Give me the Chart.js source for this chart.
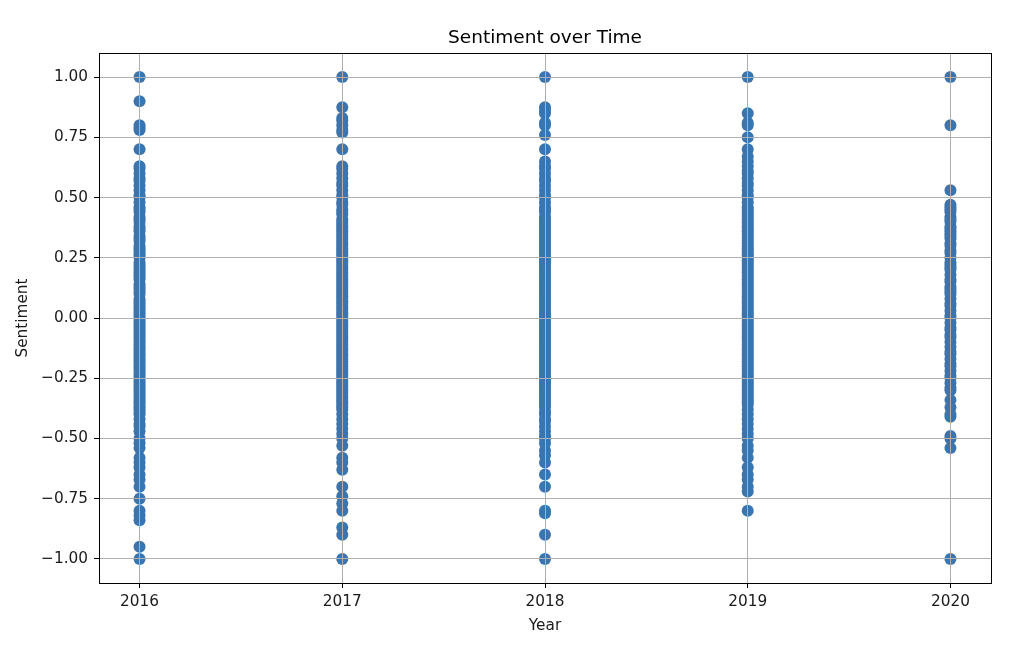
<!DOCTYPE html>
<html>
<head>
<meta charset="utf-8">
<script src="https://cdn.jsdelivr.net/npm/chart.js@4/dist/chart.umd.min.js"></script>
<style>
  html, body { margin: 0; padding: 0; background: #fff; }
  #sentiment-chart { display: block; }
</style>
</head>
<body>
<canvas id="sentiment-chart" width="1024" height="649"></canvas>
<script>
// 資料：每年的情緒分數
const years = [2016, 2017, 2018, 2019, 2020];
const yTicks = [-1.0, -0.75, -0.5, -0.25, 0.0, 0.25, 0.5, 0.75, 1.0];

const sentiment2016 = [
    1.0, 0.9, 0.8, 0.79, 0.78, 0.7, 0.63, 0.62, 0.6, 0.58, 0.57, 0.55, 0.53, 0.51,
    0.5, 0.48, 0.46, 0.44, 0.42, 0.4, 0.38, 0.36, 0.34, 0.32, 0.3, 0.28, 0.26, 0.25,
    0.23, 0.21, 0.2, 0.18, 0.16, 0.14, 0.12, 0.1, 0.08, 0.06, 0.05, 0.03, 0.01, 0.0,
    -0.02, -0.04, -0.06, -0.08, -0.1, -0.12, -0.14, -0.15, -0.17, -0.19, -0.2, -0.22,
    -0.24, -0.25, -0.27, -0.29, -0.3, -0.32, -0.34, -0.35, -0.37, -0.39, -0.4, -0.42,
    -0.44, -0.45, -0.47, -0.5, -0.52, -0.54, -0.58, -0.6, -0.62, -0.65, -0.67, -0.7,
    -0.75, -0.8, -0.82, -0.84, -0.95, -1.0,
    0.45, 0.41, 0.37, 0.33, 0.29, 0.27, 0.22, 0.19, 0.17, 0.13, 0.11, 0.07, 0.04,
    0.02, -0.01, -0.03, -0.05, -0.07, -0.09, -0.11, -0.13, -0.16, -0.18, -0.21,
    -0.23, -0.26, -0.28, -0.31, -0.33, -0.36, -0.38
];
const sentiment2017 = [
    1.0, 0.875, 0.83, 0.82, 0.8, 0.78, 0.77, 0.7, 0.63, 0.62, 0.6, 0.58, 0.56, 0.55,
    0.53, 0.51, 0.5, 0.48, 0.47, 0.45, 0.43, 0.41, 0.4, 0.38, 0.36, 0.35, 0.33, 0.31,
    0.3, 0.28, 0.27, 0.25, 0.23, 0.21, 0.2, 0.18, 0.16, 0.14, 0.13, 0.11, 0.1, 0.08,
    0.06, 0.04, 0.02, 0.0, -0.02, -0.03, -0.05, -0.07, -0.09, -0.1, -0.12, -0.13,
    -0.15, -0.17, -0.19, -0.2, -0.22, -0.23, -0.25, -0.27, -0.29, -0.3, -0.32, -0.34,
    -0.36, -0.38, -0.4, -0.42, -0.44, -0.46, -0.48, -0.5, -0.53, -0.58, -0.6, -0.63,
    -0.7, -0.74, -0.77, -0.8, -0.87, -0.9, -1.0,
    0.44, 0.39, 0.37, 0.34, 0.32, 0.29, 0.26, 0.24, 0.22, 0.19, 0.17, 0.15, 0.12,
    0.09, 0.07, 0.05, 0.03, 0.01, -0.01, -0.04, -0.06, -0.08, -0.11, -0.14, -0.16,
    -0.18, -0.21, -0.24, -0.26, -0.28, -0.31, -0.33, -0.35, -0.37
];
const sentiment2018 = [
    1.0, 0.875, 0.86, 0.85, 0.81, 0.8, 0.76, 0.7, 0.65, 0.63, 0.62, 0.6, 0.58, 0.57,
    0.55, 0.53, 0.51, 0.5, 0.48, 0.46, 0.44, 0.42, 0.4, 0.38, 0.36, 0.35, 0.33, 0.31,
    0.3, 0.28, 0.26, 0.25, 0.23, 0.21, 0.2, 0.18, 0.16, 0.14, 0.12, 0.1, 0.08, 0.07,
    0.05, 0.03, 0.01, 0.0, -0.02, -0.04, -0.05, -0.07, -0.09, -0.1, -0.12, -0.13,
    -0.15, -0.17, -0.19, -0.2, -0.22, -0.24, -0.25, -0.27, -0.29, -0.3, -0.32, -0.33,
    -0.35, -0.37, -0.39, -0.4, -0.42, -0.43, -0.45, -0.47, -0.49, -0.5, -0.52, -0.55,
    -0.57, -0.6, -0.65, -0.7, -0.8, -0.81, -0.9, -1.0,
    0.45, 0.41, 0.39, 0.37, 0.34, 0.32, 0.29, 0.27, 0.24, 0.22, 0.19, 0.17, 0.15,
    0.13, 0.11, 0.09, 0.06, 0.04, 0.02, -0.01, -0.03, -0.06, -0.08, -0.11, -0.14,
    -0.16, -0.18, -0.21, -0.23, -0.26, -0.28, -0.31, -0.34, -0.36
];
const sentiment2019 = [
    1.0, 0.85, 0.81, 0.8, 0.75, 0.7, 0.67, 0.65, 0.63, 0.61, 0.6, 0.58, 0.56, 0.55,
    0.53, 0.51, 0.5, 0.48, 0.46, 0.44, 0.42, 0.4, 0.38, 0.36, 0.35, 0.33, 0.31, 0.3,
    0.28, 0.26, 0.25, 0.23, 0.21, 0.2, 0.18, 0.16, 0.14, 0.12, 0.1, 0.08, 0.06, 0.05,
    0.03, 0.01, 0.0, -0.02, -0.04, -0.06, -0.08, -0.1, -0.12, -0.14, -0.15, -0.17,
    -0.19, -0.2, -0.22, -0.24, -0.25, -0.27, -0.29, -0.3, -0.32, -0.34, -0.36, -0.38,
    -0.4, -0.42, -0.44, -0.46, -0.48, -0.5, -0.53, -0.55, -0.58, -0.62, -0.65, -0.67,
    -0.7, -0.72, -0.8,
    0.45, 0.43, 0.41, 0.39, 0.37, 0.34, 0.32, 0.29, 0.27, 0.24, 0.22, 0.19, 0.17,
    0.15, 0.13, 0.11, 0.09, 0.07, 0.04, 0.02, -0.01, -0.03, -0.05, -0.07, -0.09,
    -0.11, -0.13, -0.16, -0.18, -0.21, -0.23, -0.26, -0.28, -0.31, -0.33, -0.35
];
const sentiment2020 = [
    1.0, 0.8, 0.53, 0.47, 0.46, 0.44, 0.42, 0.4, 0.38, 0.36, 0.35, 0.33, 0.31, 0.3,
    0.28, 0.25, 0.23, 0.22, 0.2, 0.18, 0.16, 0.15, 0.13, 0.12, 0.1, 0.08, 0.06, 0.05,
    0.03, 0.0, -0.02, -0.04, -0.05, -0.07, -0.1, -0.12, -0.14, -0.17, -0.19, -0.2,
    -0.22, -0.25, -0.27, -0.29, -0.3, -0.34, -0.37, -0.4, -0.41, -0.49, -0.5, -0.54, -1.0,
    0.45, 0.41, 0.37, 0.34, 0.27, 0.21, 0.11, 0.01, -0.08, -0.15, -0.24
];

const sentimentByYear = [sentiment2016, sentiment2017, sentiment2018, sentiment2019, sentiment2020];

const points = [];
years.forEach((year, i) => {
    sentimentByYear[i].forEach(v => points.push({ x: year, y: v }));
});

const FONT = 'DejaVu Sans';
const TEXT_COLOR = '#1a1a1a';
const GRID_COLOR = '#b0b0b0';
const TICK_SIZE = 15.3;

// 外框（matplotlib 的四邊框線）
const framePlugin = {
    id: 'frame',
    afterDraw(chart) {
        const { ctx, chartArea: a } = chart;
        ctx.save();
        ctx.strokeStyle = '#000';
        ctx.lineWidth = 1;
        ctx.strokeRect(Math.round(a.left) + 0.5, Math.round(a.top) + 0.5,
            Math.round(a.right - a.left), Math.round(a.bottom - a.top));
        ctx.restore();
    }
};

function formatTick(value) {
    return value.toFixed(2).replace('-', '\u2212');
}

new Chart(document.getElementById('sentiment-chart'), {
    type: 'scatter',
    data: {
        datasets: [{
            label: 'Sentiment',
            data: points,
            backgroundColor: '#3a75b0',
            borderColor: '#3a75b0',
            borderWidth: 0,
            pointRadius: 6,
            pointHoverRadius: 6
        }]
    },
    options: {
        responsive: false,
        animation: false,
        layout: { padding: { left: 0, right: 33, top: 0, bottom: 0 } },
        plugins: {
            legend: { display: false },
            tooltip: { enabled: false },
            title: {
                display: true,
                fullSize: false,
                text: 'Sentiment over Time',
                color: '#000',
                font: { family: FONT, size: 18.5, weight: 'normal' },
                padding: { top: 27.5, bottom: 3.3 }
            }
        },
        scales: {
            x: {
                type: 'linear',
                min: 2015.8,
                max: 2020.2,
                afterBuildTicks: scale => { scale.ticks = years.map(v => ({ value: v })); },
                afterFit: scale => { scale.height = 66; },
                ticks: {
                    color: TEXT_COLOR,
                    font: { family: FONT, size: TICK_SIZE },
                    padding: 5,
                    maxRotation: 0,
                    callback: v => String(v)
                },
                grid: { color: GRID_COLOR, lineWidth: 1, tickLength: 5, tickColor: '#000', z: 1 },
                border: { display: false },
                title: {
                    display: true,
                    text: 'Year',
                    color: TEXT_COLOR,
                    font: { family: FONT, size: TICK_SIZE },
                    padding: { top: 0, bottom: 14 }
                }
            },
            y: {
                type: 'linear',
                min: -1.1,
                max: 1.1,
                afterBuildTicks: scale => { scale.ticks = yTicks.map(v => ({ value: v })); },
                afterFit: scale => { scale.width = 99; },
                ticks: {
                    color: TEXT_COLOR,
                    font: { family: FONT, size: TICK_SIZE },
                    padding: 6,
                    callback: v => formatTick(v)
                },
                grid: { color: GRID_COLOR, lineWidth: 1, tickLength: 5, tickColor: '#000', z: 1 },
                border: { display: false },
                title: {
                    display: true,
                    text: 'Sentiment',
                    color: TEXT_COLOR,
                    font: { family: FONT, size: TICK_SIZE },
                    padding: { top: 14, bottom: 0 }
                }
            }
        }
    },
    plugins: [framePlugin]
});
</script>
</body>
</html>
